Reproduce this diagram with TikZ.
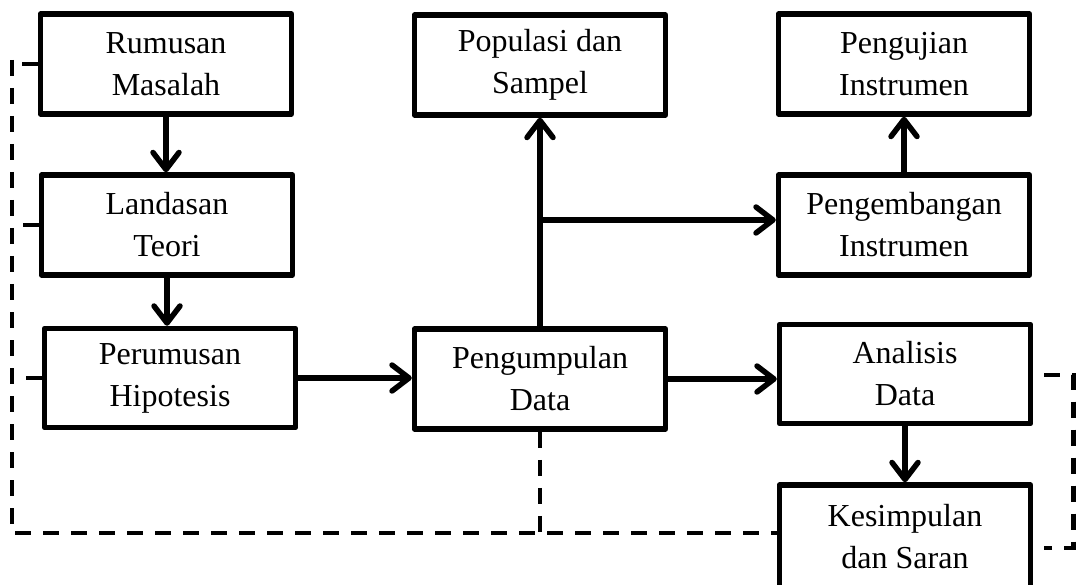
\documentclass[tikz,border=0pt]{standalone}
\usepackage{fontspec}
\setmainfont{Liberation Serif}
\usetikzlibrary{arrows.meta}
\begin{document}
\begin{tikzpicture}[x=1pt,y=-1pt,
  box/.style={draw, line width=5.5pt, line join=round, inner sep=0pt,
    minimum width=251pt, minimum height=100pt, align=center,
    font=\fontsize{32}{42}\selectfont},
  conn/.style={line width=5.5pt, line cap=round,
    -{Straight Barb[length=17pt,width=26pt,line cap=round,line join=round]}},
  dsh/.style={line width=4.2pt, dash pattern=on 16pt off 12pt}]
\useasboundingbox (0,0) rectangle (1076,585);
% boxes
\node[box] (rm) at (166,64) {Rumusan\\Masalah};
\node[box] (lt) at (167,225) {Landasan\\Teori};
\node[box, minimum height=99pt] (ph) at (170,378) {Perumusan\\Hipotesis};
\node[box] (ps) at (540,65) {Populasi dan\\Sampel};
\node[box] (pd) at (540,379) {Pengumpulan\\Data};
\node[box] (pi) at (904,64) {Pengujian\\Instrumen};
\node[box] (pe) at (904,225) {Pengembangan\\Instrumen};
\node[box, minimum height=99pt] (ad) at (905,374) {Analisis\\Data};
\node[box, minimum height=104pt] (ks) at (905,537) {Kesimpulan\\dan Saran};
% solid connectors
\draw[conn] (rm.south) -- (rm.south |- lt.north);
\draw[conn] (lt.south) -- (lt.south |- ph.north);
\draw[conn] (ph.east) -- (ph.east -| pd.west);
\draw[conn] (pd.north) -- (ps.south);
\coordinate (br) at (540,220);
\draw[conn] (br) -- (br -| pe.west);
\draw[conn] (pe.north) -- (pi.south);
\draw[conn] (pd.east) -- (pd.east -| ad.west);
\draw[conn] (ad.south) -- (ks.north);
% dashed feedback lines
\coordinate (L) at (12,60);
\coordinate (LB) at (12,533);
\draw[dsh] (rm.west) -- (rm.west -| L);
\draw[dsh] (lt.west) -- (lt.west -| L);
\draw[dsh] (ph.west) -- (ph.west -| L);
\draw[dsh] (L) -- (LB) -- (LB -| ks.west);
\draw[dsh] (pd.south) -- (pd.south |- LB);
\coordinate (R1) at (1044,375);
\coordinate (R2) at (1073.5,375);
\coordinate (R3) at (1073.5,548);
\coordinate (R4) at (1044,548);
\draw[dsh] (R1) -- (R2) -- (R3) -- (R4);
\end{tikzpicture}
\end{document}
